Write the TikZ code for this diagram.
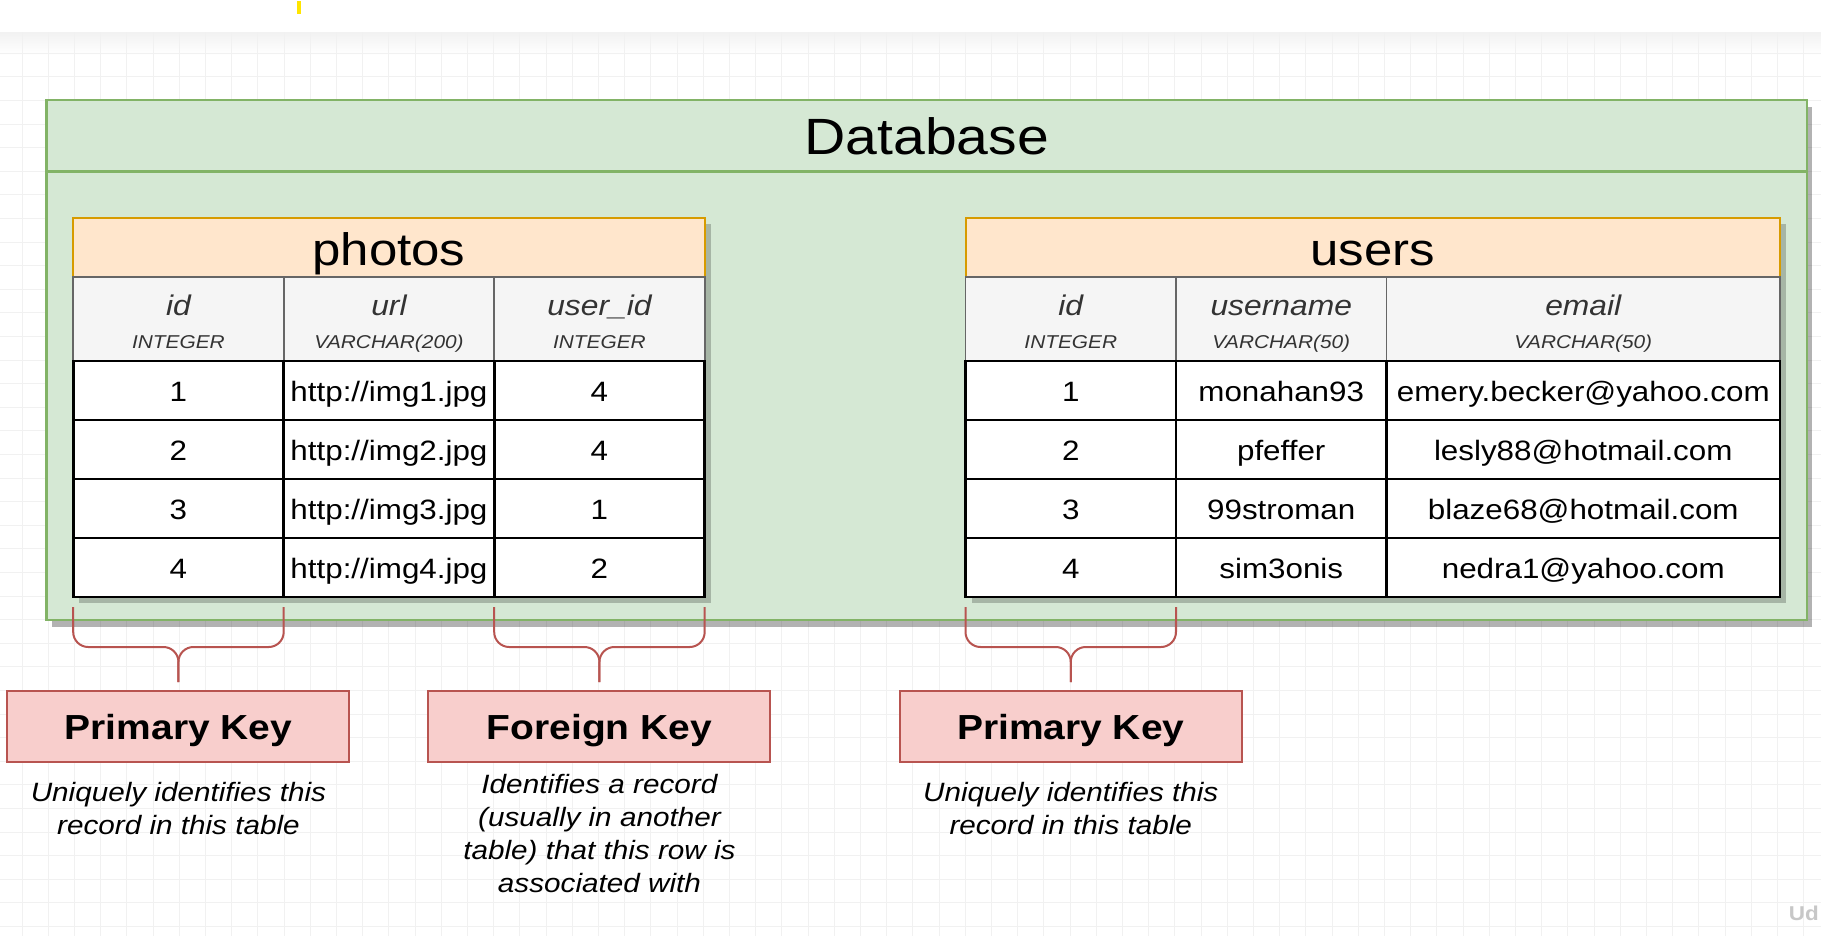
\documentclass[tikz,border=0pt]{standalone}
\usepackage{fontspec}
\setmainfont{Liberation Sans}[FakeStretch=1.12]
\usetikzlibrary{positioning,shadows,calc}

\definecolor{dbfill}{HTML}{D5E8D4}
\definecolor{dbline}{HTML}{82B366}
\definecolor{tabfill}{HTML}{FFE6CC}
\definecolor{tabline}{HTML}{D79B00}
\definecolor{headfill}{HTML}{F5F5F5}
\definecolor{headline}{HTML}{666666}
\definecolor{headtext}{HTML}{333333}
\definecolor{keyfill}{HTML}{F8CECC}
\definecolor{keyline}{HTML}{B85450}
\definecolor{gridgray}{HTML}{F1F1F1}
\definecolor{marker}{HTML}{FFE500}

\tikzset{
	cellshadow/.style={drop shadow={shadow xshift=6pt, shadow yshift=-6pt, fill=black, opacity=0.22}},
	dbbox/.style={rectangle, draw=dbline, fill=dbfill, line width=2.2pt, minimum width=1760.5pt, minimum height=520pt, inner sep=0pt, outer sep=0pt, drop shadow={shadow xshift=5pt, shadow yshift=-7pt, fill=black, opacity=0.3}},
	dbhead/.style={rectangle, draw=dbline, line width=2.2pt, minimum width=1760.5pt, minimum height=71.5pt, inner sep=0pt, outer sep=0pt, text height=38.5pt, text depth=0pt, font=\fontsize{51}{51}\selectfont},
	tabtitle/.style={rectangle, draw=tabline, fill=tabfill, line width=2pt, minimum height=58.5pt, inner sep=0pt, outer sep=0pt, text height=36pt, text depth=0pt, font=\fontsize{45.5}{45.5}\selectfont, cellshadow},
	colhead/.style={rectangle, draw=headline, fill=headfill, line width=1.6pt, minimum height=84pt, inner sep=0pt, outer sep=0pt, cellshadow},
	fname/.style={anchor=base, inner sep=0pt, text=headtext, font=\itshape\fontsize{28.4}{28.4}\selectfont},
	ftype/.style={anchor=base, inner sep=0pt, text=headtext, font=\itshape\fontsize{18.6}{18.6}\selectfont},
	cell/.style={rectangle, draw=black, fill=white, line width=2.6pt, minimum height=59pt, inner sep=0pt, outer sep=0pt, text height=22pt, text depth=0pt, font=\fontsize{28}{28}\selectfont, cellshadow},
	narrow/.style={minimum width=210.5pt},
	broad/.style={minimum width=393.5pt},
	brace/.style={draw=keyline, line width=2pt, rounded corners=15pt},
	keybox/.style={rectangle, draw=keyline, fill=keyfill, line width=2pt, minimum width=342pt, minimum height=71.8pt, inner sep=0pt, outer sep=0pt, text height=26pt, text depth=0pt, font=\bfseries\fontsize{34.8}{34.8}\selectfont},
	keynote/.style={inner sep=0pt, align=center, font=\itshape\fontsize{26.5}{33}\selectfont},
	gridline/.style={draw=gridgray, line width=0.9pt}
}

\begin{document}
\begin{tikzpicture}[x=1pt, y=-1pt]
	\fill[white] (0,0) rectangle (1821,936);
	\useasboundingbox (0,0) rectangle (1821,936);
	
	% canvas grid
	\shade[top color=black!5, bottom color=white] (0,33) rectangle (1821,55);
	\foreach \k in {0,...,68}
		\draw[gridline] ({22+26.2*\k},33) -- ({22+26.2*\k},936);
	\foreach \k in {0,...,37}
		\draw[gridline] (0,{53.3+23.6*\k}) -- (1821,{53.3+23.6*\k});
	\fill[marker] (297,1) rectangle (300.5,14.5);
	
	% Database
	\node[dbbox] (db) at (926.75,360) {};
	\node[dbhead, below=0pt of db.north] (dbtitle) {Database};
	
	% photos
	\node[tabtitle, minimum width=631.5pt] (ptitle) at (388.95,247.75) {photos};
	\node[colhead, narrow, below right=0pt and 0pt of ptitle.south west] (ph1) {};
	\node[fname] (ph1n) at ([yshift=4pt]ph1.center) {id};
	\node[ftype] (ph1t) at ([yshift=-29.3pt]ph1.center) {INTEGER};
	\node[colhead, narrow, right=0pt of ph1] (ph2) {};
	\node[fname] (ph2n) at ([yshift=4pt]ph2.center) {url};
	\node[ftype] (ph2t) at ([yshift=-29.3pt]ph2.center) {VARCHAR(200)};
	\node[colhead, narrow, right=0pt of ph2] (ph3) {};
	\node[fname] (ph3n) at ([yshift=4pt]ph3.center) {user\_id};
	\node[ftype] (ph3t) at ([yshift=-29.3pt]ph3.center) {INTEGER};
	
	\node[cell, narrow, below=0pt of ph1] (p11) {1};
	\node[cell, narrow, right=0pt of p11] (p12) {http://img1.jpg};
	\node[cell, narrow, right=0pt of p12] (p13) {4};
	\node[cell, narrow, below=0pt of p11] (p21) {2};
	\node[cell, narrow, right=0pt of p21] (p22) {http://img2.jpg};
	\node[cell, narrow, right=0pt of p22] (p23) {4};
	\node[cell, narrow, below=0pt of p21] (p31) {3};
	\node[cell, narrow, right=0pt of p31] (p32) {http://img3.jpg};
	\node[cell, narrow, right=0pt of p32] (p33) {1};
	\node[cell, narrow, below=0pt of p31] (p41) {4};
	\node[cell, narrow, right=0pt of p41] (p42) {http://img4.jpg};
	\node[cell, narrow, right=0pt of p42] (p43) {2};
	
	% users
	\node[tabtitle, minimum width=814.5pt] (utitle) at (1372.75,247.75) {users};
	\node[colhead, narrow, below right=0pt and 0pt of utitle.south west] (uh1) {};
	\node[fname] (uh1n) at ([yshift=4pt]uh1.center) {id};
	\node[ftype] (uh1t) at ([yshift=-29.3pt]uh1.center) {INTEGER};
	\node[colhead, narrow, right=0pt of uh1] (uh2) {};
	\node[fname] (uh2n) at ([yshift=4pt]uh2.center) {username};
	\node[ftype] (uh2t) at ([yshift=-29.3pt]uh2.center) {VARCHAR(50)};
	\node[colhead, broad, right=0pt of uh2] (uh3) {};
	\node[fname] (uh3n) at ([yshift=4pt]uh3.center) {email};
	\node[ftype] (uh3t) at ([yshift=-29.3pt]uh3.center) {VARCHAR(50)};
	
	\node[cell, narrow, below=0pt of uh1] (u11) {1};
	\node[cell, narrow, right=0pt of u11] (u12) {monahan93};
	\node[cell, broad, right=0pt of u12] (u13) {emery.becker@yahoo.com};
	\node[cell, narrow, below=0pt of u11] (u21) {2};
	\node[cell, narrow, right=0pt of u21] (u22) {pfeffer};
	\node[cell, broad, right=0pt of u22] (u23) {lesly88@hotmail.com};
	\node[cell, narrow, below=0pt of u21] (u31) {3};
	\node[cell, narrow, right=0pt of u31] (u32) {99stroman};
	\node[cell, broad, right=0pt of u32] (u33) {blaze68@hotmail.com};
	\node[cell, narrow, below=0pt of u31] (u41) {4};
	\node[cell, narrow, right=0pt of u41] (u42) {sim3onis};
	\node[cell, broad, right=0pt of u42] (u43) {nedra1@yahoo.com};
	
	% braces
	\coordinate (b1l) at ([yshift=-10pt]p41.south west);
	\coordinate (b1r) at ([yshift=-10pt]p41.south east);
	\coordinate (b1m) at ([yshift=-50pt]p41.south);
	\coordinate (b1t) at ([yshift=-85pt]p41.south);
	\draw[brace] (b1l) |- (b1m) -- (b1t);
	\draw[brace] (b1r) |- (b1m) -- (b1t);
	
	\coordinate (b2l) at ([yshift=-10pt]p43.south west);
	\coordinate (b2r) at ([yshift=-10pt]p43.south east);
	\coordinate (b2m) at ([yshift=-50pt]p43.south);
	\coordinate (b2t) at ([yshift=-85pt]p43.south);
	\draw[brace] (b2l) |- (b2m) -- (b2t);
	\draw[brace] (b2r) |- (b2m) -- (b2t);
	
	\coordinate (b3l) at ([yshift=-10pt]u41.south west);
	\coordinate (b3r) at ([yshift=-10pt]u41.south east);
	\coordinate (b3m) at ([yshift=-50pt]u41.south);
	\coordinate (b3t) at ([yshift=-85pt]u41.south);
	\draw[brace] (b3l) |- (b3m) -- (b3t);
	\draw[brace] (b3r) |- (b3m) -- (b3t);
	
	% keys
	\node[keybox, below=8.5pt of b1t] (pk1) {Primary Key};
	\node[keynote, below=20pt of pk1] (pk1note) {Uniquely identifies this\\record in this table};
	
	\node[keybox, below=8.5pt of b2t] (fk) {Foreign Key};
	\node[keynote, below=12pt of fk] (fknote) {Identifies a record\\(usually in another\\table) that this row is\\associated with};
	
	\node[keybox, below=8.5pt of b3t] (pk2) {Primary Key};
	\node[keynote, below=20pt of pk2] (pk2note) {Uniquely identifies this\\record in this table};
	
	\node[anchor=base east, inner sep=0pt, text=black!22, font=\bfseries\fontsize{20}{20}\selectfont] (logo) at (1819,920) {Ud};
\end{tikzpicture}
\end{document}
